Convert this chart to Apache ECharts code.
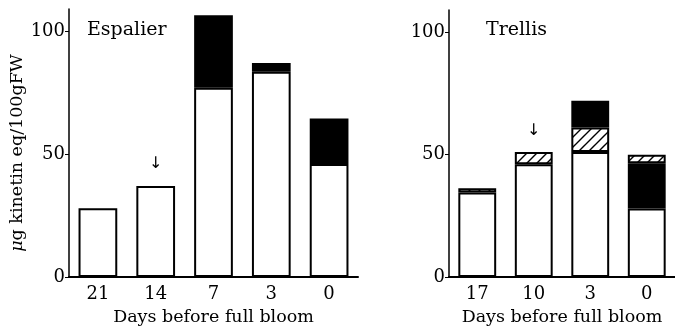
<!DOCTYPE html>
<html>
<head>
<meta charset="utf-8">
<script src="https://cdn.jsdelivr.net/npm/echarts@6/dist/echarts.min.js"></script>
<style>
  html, body { margin: 0; padding: 0; background: #fff; }
  #chart { width: 675px; height: 331px; }
</style>
</head>
<body>
<div id="chart"></div>
<script>
// Espalier panel
var espDays = ["21", "14", "7", "3", "0"];
var espWhite = [28, 37, 77, 83.5, 46];
var espBlack = [null, null, 29.5, 3.5, 18.5];
var espArrow = ["14", 46];

// Trellis panel
var treDays = ["17", "10", "3", "0"];
var treWhite = [34.5, 46, 51, 28];
var treHatchLow = [1.7, 5, 10, null];
var treBlack = [null, null, 11, 18.4];
var treHatchTop = [null, null, null, 3.5];
var treArrow = ["10", 59.5];

var yTicks = [0, 50, 100];

// hatch pattern  ( / / / )
var pat = document.createElement("canvas");
pat.width = 10;
pat.height = 10;
var ctx = pat.getContext("2d");
ctx.fillStyle = "#fff";
ctx.fillRect(0, 0, 10, 10);
ctx.strokeStyle = "#000";
ctx.lineWidth = 1.4;
ctx.beginPath();
ctx.moveTo(0, 10); ctx.lineTo(10, 0);
ctx.moveTo(-2, 2); ctx.lineTo(2, -2);
ctx.moveTo(8, 12); ctx.lineTo(12, 8);
ctx.stroke();
var hatch = { image: pat, repeat: "repeat" };

var serif = "DejaVu Serif";
var chart = echarts.init(document.getElementById("chart"));

function xAx(idx, days) {
  return {
    type: "category",
    gridIndex: idx,
    data: days,
    axisLine: { lineStyle: { color: "#000", width: 2 } },
    axisTick: { show: false },
    axisLabel: { color: "#000", fontFamily: serif, fontSize: 18, margin: 8 },
    name: "Days before full bloom",
    nameLocation: "middle",
    nameGap: 31,
    nameTextStyle: { color: "#000", fontFamily: serif, fontSize: 17.5 },
  };
}

function yAx(idx, withName) {
  var ax = {
    type: "value",
    gridIndex: idx,
    min: 0,
    max: 109,
    interval: 50,
    splitLine: { show: false },
    axisLine: { show: true, lineStyle: { color: "#000", width: 1.5 } },
    axisTick: { show: true, length: 4, customValues: yTicks, lineStyle: { color: "#000" } },
    axisLabel: { color: "#000", fontFamily: serif, fontSize: 18, margin: 4, customValues: yTicks },
  };
  if (withName) {
    ax.name = "{i|μ}g kinetin eq/100gFW";
    ax.nameLocation = "middle";
    ax.nameGap = 33;
    ax.nameTextStyle = {
      color: "#000",
      fontFamily: serif,
      fontSize: 17.5,
      padding: [0, 20, 0, 0],
      rich: { i: { fontStyle: "italic", fontFamily: serif, fontSize: 17.5, color: "#000" } },
    };
  }
  return ax;
}

function bar(idx, stack, data, color, arrow) {
  var s = {
    type: "bar",
    xAxisIndex: idx,
    yAxisIndex: idx,
    stack: stack,
    data: data,
    barCategoryGap: "33%",
    itemStyle: { color: color, borderColor: "#000", borderWidth: 2 },
  };
  if (arrow) {
    s.markPoint = {
      symbolSize: 0,
      data: [{ coord: arrow, value: 0 }],
      label: { show: true, formatter: "↓", color: "#000", fontSize: 16, fontFamily: "DejaVu Sans" },
    };
  }
  return s;
}

chart.setOption({
  animation: false,
  title: [
    { text: "Espalier", left: 87, top: 21, padding: 0,
      textStyle: { color: "#000", fontFamily: serif, fontSize: 19, fontWeight: "normal" } },
    { text: "Trellis", left: 486, top: 21, padding: 0,
      textStyle: { color: "#000", fontFamily: serif, fontSize: 19, fontWeight: "normal" } },
  ],
  grid: [
    { left: 69, top: 9, width: 289, height: 269 },
    { left: 449, top: 10, width: 232, height: 269.5 },
  ],
  xAxis: [xAx(0, espDays), xAx(1, treDays)],
  yAxis: [yAx(0, true), yAx(1, false)],
  series: [
    bar(0, "esp", espWhite, "#fff", espArrow),
    bar(0, "esp", espBlack, "#000"),
    bar(1, "tre", treWhite, "#fff", treArrow),
    bar(1, "tre", treHatchLow, hatch),
    bar(1, "tre", treBlack, "#000"),
    bar(1, "tre", treHatchTop, hatch),
  ],
});
</script>
</body>
</html>
